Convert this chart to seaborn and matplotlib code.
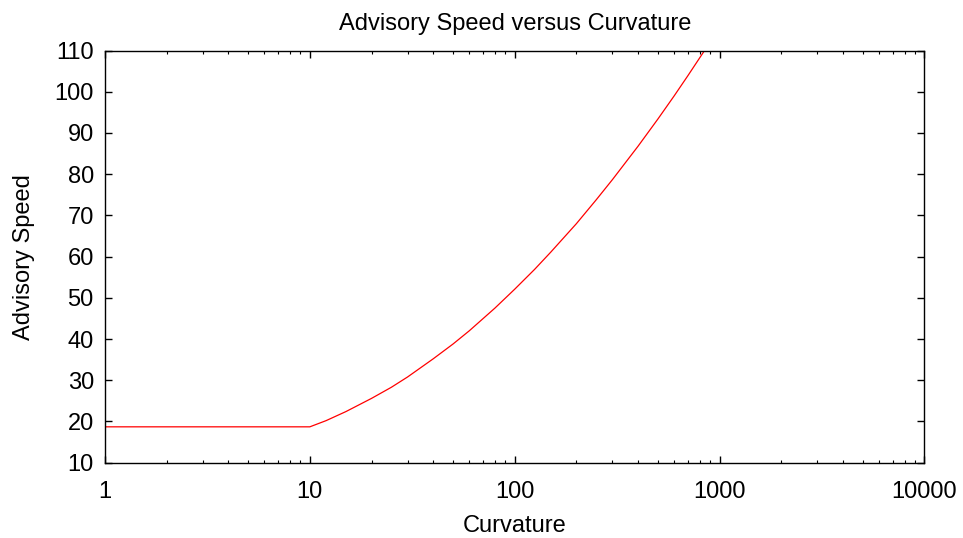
import matplotlib
matplotlib.use("Agg")
import matplotlib.pyplot as plt
import matplotlib.ticker as mticker
import seaborn as sns
import pandas as pd

# Data
curvature = [1, 10, 12, 15, 20, 25, 30, 40, 50, 60, 80, 100, 125, 150, 200, 250,
             300, 400, 500, 600, 700, 844, 10000]
advisory_speed = [18.7, 18.7, 20.2, 22.4, 25.6, 28.3, 30.8, 35.2, 38.8, 42.0, 47.5,
                  52.1, 56.9, 61.1, 68.0, 73.8, 78.7, 86.8, 93.4, 99.0, 103.9, 110.0, 110.0]
x_ticks = [1, 10, 100, 1000, 10000]
x_tick_labels = ["1", "10", "100", "1000", "10000"]
y_ticks = [10, 20, 30, 40, 50, 60, 70, 80, 90, 100, 110]

df = pd.DataFrame({"Curvature": curvature, "Advisory Speed": advisory_speed})

sns.set_style("ticks")
plt.rcParams["font.family"] = ["Liberation Sans", "DejaVu Sans"]
plt.rcParams["text.color"] = "black"
plt.rcParams["axes.labelcolor"] = "black"
plt.rcParams["xtick.color"] = "black"
plt.rcParams["ytick.color"] = "black"

fig = plt.figure(figsize=(9.63, 5.38), dpi=100)
ax = fig.add_axes([0.109, 0.140, 0.851, 0.766])

sns.lineplot(data=df, x="Curvature", y="Advisory Speed", color="#ff0000",
             linewidth=0.9, ax=ax, sort=False)

ax.set_xscale("log")
ax.set_xlim(1, 10000)
ax.set_ylim(10, 110)
ax.set_xticks(x_ticks)
ax.set_xticklabels(x_tick_labels)
ax.xaxis.set_minor_locator(mticker.LogLocator(base=10, subs=range(2, 10), numticks=20))
ax.xaxis.set_minor_formatter(mticker.NullFormatter())
ax.set_yticks(y_ticks)

ax.tick_params(axis="both", which="major", direction="in", length=5, width=1,
               labelsize=17, top=True, right=True, labelcolor="black", color="black")
ax.tick_params(axis="y", which="major", pad=8)
ax.tick_params(axis="x", which="major", pad=13)
ax.tick_params(axis="x", which="minor", direction="in", length=2.5, width=0.8,
               top=True, color="black")
ax.tick_params(axis="y", which="minor", left=False, right=False)

for s in ax.spines.values():
    s.set_color("black")
    s.set_linewidth(1.0)

ax.set_xlabel("Curvature", fontsize=17, labelpad=9, color="black")
ax.set_ylabel("Advisory Speed", fontsize=17, labelpad=14, color="black")
ax.set_title("Advisory Speed versus Curvature", fontsize=17, pad=15, color="black")

fig.savefig("out.png", dpi=100)
